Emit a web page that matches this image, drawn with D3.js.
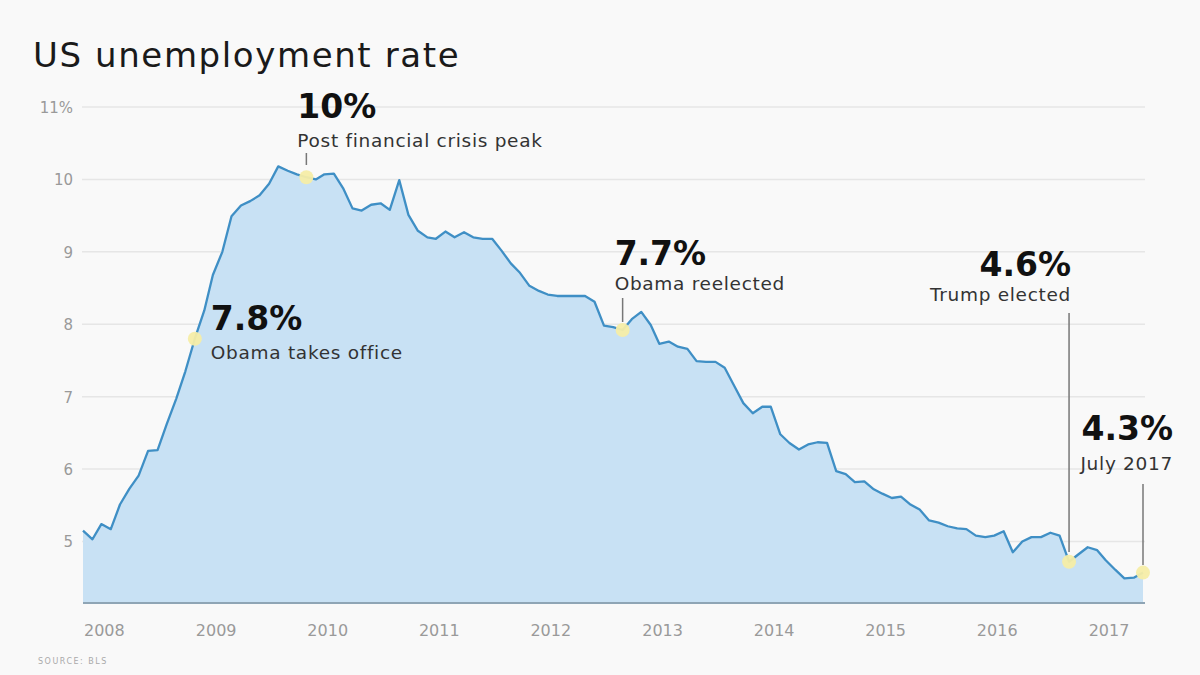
<!DOCTYPE html>
<html lang="en">
<head>
<meta charset="utf-8">
<title>US unemployment rate</title>
<script src="https://cdn.jsdelivr.net/npm/d3@7"></script>
<style>
    body { margin: 0; background: #f9f9f9; }
    svg { display: block; font-family: "DejaVu Sans", "Liberation Sans", sans-serif; }
</style>
</head>
<body>
<script>

// Monthly rate, Jan 2008 .. Jul 2017
var startYear = 2008;
var rates = [
    5.15, 5.03, 5.24, 5.17, 5.51, 5.73, 5.91, 6.25, 6.26, 6.62, 6.97, 7.35,   // 2008
    7.80, 8.19, 8.68, 9.00, 9.49, 9.64, 9.70, 9.78, 9.94, 10.18, 10.12, 10.07, // 2009
    10.03, 10.00, 10.07, 10.08, 9.88, 9.60, 9.57, 9.65, 9.67, 9.58, 9.99, 9.51, // 2010
    9.29, 9.20, 9.18, 9.28, 9.20, 9.27, 9.20, 9.18, 9.18, 9.02, 8.84, 8.71,   // 2011
    8.53, 8.46, 8.41, 8.39, 8.39, 8.39, 8.39, 8.31, 7.98, 7.96, 7.92, 8.07,   // 2012
    8.17, 7.99, 7.73, 7.76, 7.69, 7.66, 7.49, 7.48, 7.48, 7.40, 7.15, 6.91,   // 2013
    6.77, 6.86, 6.86, 6.48, 6.36, 6.27, 6.34, 6.37, 6.36, 5.97, 5.93, 5.82,   // 2014
    5.83, 5.72, 5.66, 5.60, 5.62, 5.51, 5.44, 5.29, 5.26, 5.21, 5.18, 5.17,   // 2015
    5.08, 5.06, 5.08, 5.14, 4.85, 5.00, 5.06, 5.06, 5.12, 5.08, 4.72, 4.82,   // 2016
    4.92, 4.88, 4.74, 4.61, 4.49, 4.50, 4.57                                  // 2017
];

var yTicks = [5, 6, 7, 8, 9, 10, 11];
var xYears = [2008, 2009, 2010, 2011, 2012, 2013, 2014, 2015, 2016, 2017];

// annotations: month index into rates, headline, caption
var noteMonths   = [12, 24, 58, 106, 114];
var noteValues   = ["7.8%", "10%", "7.7%", "4.6%", "4.3%"];
var noteCaptions = ["Obama takes office", "Post financial crisis peak", "Obama reelected", "Trump elected", "July 2017"];

var w = 1200, h = 675;

var data = rates.map(function (v, i) {
    return { date: new Date(startYear, i, 1), value: v };
});

var x = d3.scaleTime()
    .domain([data[0].date, data[data.length - 1].date])
    .range([83, 1143]);

var y = d3.scaleLinear()
    .domain([4.15, 11])
    .range([603, 107]);

var svg = d3.select("body").append("svg")
    .attr("width", w)
    .attr("height", h);

svg.append("rect").attr("width", w).attr("height", h).attr("fill", "#f9f9f9");

// title
svg.append("text")
    .attr("x", 33).attr("y", 67)
    .attr("font-size", 34)
    .attr("letter-spacing", 1.6)
    .attr("fill", "#1a1a1a")
    .text("US unemployment rate");

// grid
svg.append("g").selectAll("line")
    .data(yTicks)
    .enter().append("line")
    .attr("x1", 82).attr("x2", 1145)
    .attr("y1", function (d) { return y(d); })
    .attr("y2", function (d) { return y(d); })
    .attr("stroke", "#e6e6e6")
    .attr("stroke-width", 1.5);

svg.append("g").selectAll("text")
    .data(yTicks)
    .enter().append("text")
    .attr("x", 73)
    .attr("y", function (d) { return y(d) + 6; })
    .attr("text-anchor", "end")
    .attr("font-size", 15)
    .attr("fill", "#9a9a9a")
    .text(function (d) { return d === 11 ? d + "%" : d; });

// area + line
var area = d3.area()
    .x(function (d) { return x(d.date); })
    .y0(y.range()[0])
    .y1(function (d) { return y(d.value); });

var line = d3.line()
    .x(function (d) { return x(d.date); })
    .y(function (d) { return y(d.value); });

svg.append("path")
    .datum(data)
    .attr("d", area)
    .attr("fill", "#c8e1f4");

svg.append("path")
    .datum(data)
    .attr("d", line)
    .attr("fill", "none")
    .attr("stroke", "#3f8fc5")
    .attr("stroke-width", 2.3)
    .attr("stroke-linejoin", "round");

// baseline
svg.append("line")
    .attr("x1", 83).attr("x2", 1145)
    .attr("y1", 603).attr("y2", 603)
    .attr("stroke", "#8fa5b5")
    .attr("stroke-width", 2);

// x labels, anchored at January of each year
svg.append("g").selectAll("text")
    .data(xYears)
    .enter().append("text")
    .attr("x", function (d) { return x(new Date(d, 0, 1)) + 1; })
    .attr("y", 636)
    .attr("font-size", 16)
    .attr("fill", "#9a9a9a")
    .text(function (d) { return d; });

// source
svg.append("text")
    .attr("x", 38).attr("y", 664)
    .attr("font-size", 8)
    .attr("letter-spacing", 1.5)
    .attr("fill", "#aaa")
    .text("SOURCE: BLS");

// annotations
var noteLayout = [
    // [text anchor, text x offset, headline y, caption y, leader top, leader bottom]
    ["start", 16, 330, 359, null, null],
    ["start", -9, 118, 147, 153, 165],
    ["start", -8, 265, 290, 298, 322],
    ["end",    2, 276, 301, 313, 552],
    ["end",   30, 440, 470, 484, 565]
];

var notes = svg.append("g");

noteMonths.forEach(function (m, i) {
    var d = data[m];
    var px = x(d.date), py = y(d.value);
    var L = noteLayout[i];

    if (L[4] !== null) {
        notes.append("line")
            .attr("x1", px).attr("x2", px)
            .attr("y1", L[4]).attr("y2", L[5])
            .attr("stroke", "#777")
            .attr("stroke-width", 1.5);
    }

    notes.append("circle")
        .attr("cx", px).attr("cy", py)
        .attr("r", 7)
        .attr("fill", "#f6eda6")
        .attr("opacity", 0.95);

    notes.append("text")
        .attr("x", px + L[1]).attr("y", L[2])
        .attr("text-anchor", L[0])
        .attr("font-size", 33)
        .attr("font-weight", "bold")
        .attr("fill", "#111")
        .text(noteValues[i]);

    notes.append("text")
        .attr("x", px + L[1]).attr("y", L[3])
        .attr("text-anchor", L[0])
        .attr("font-size", 18.5)
        .attr("letter-spacing", 0.7)
        .attr("fill", "#333")
        .text(noteCaptions[i]);
});

</script>
</body>
</html>
